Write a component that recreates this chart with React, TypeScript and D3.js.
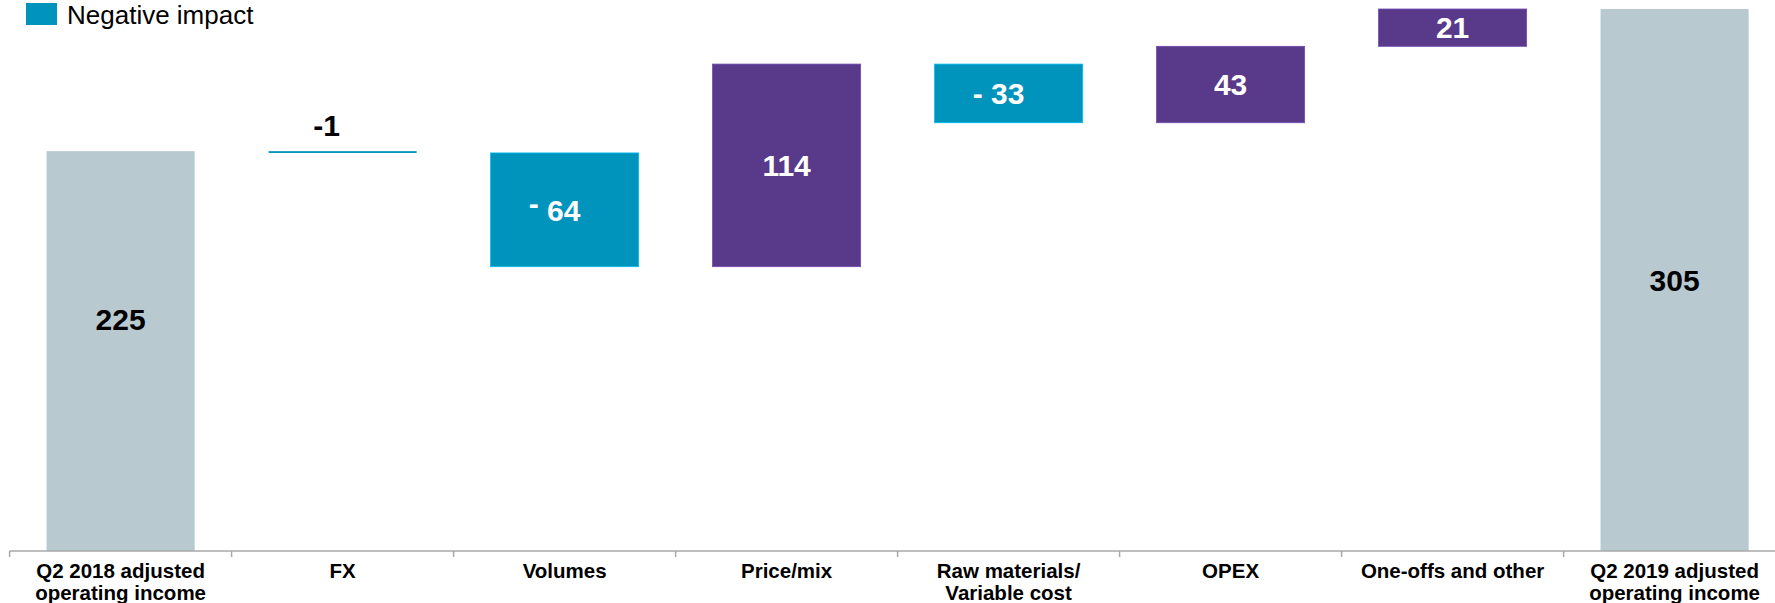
import React from 'react';
import * as d3 from 'd3';

const categories: string[][] = [
  ['Q2 2018 adjusted', 'operating income'],
  ['FX'],
  ['Volumes'],
  ['Price/mix'],
  ['Raw materials/', 'Variable cost'],
  ['OPEX'],
  ['One-offs and other'],
  ['Q2 2019 adjusted', 'operating income'],
];
const values = [225, -1, -64, 114, -33, 43, 21, 305];
const kinds = ['total', 'delta', 'delta', 'delta', 'delta', 'delta', 'delta', 'total'];
const valueLabels = ['225', '-1', '- 64', '114', '- 33', '43', '21', '305'];
const legendLabel = 'Negative impact';

const W = 1775;
const H = 603;
const FONT = '"Liberation Sans", Arial, Helvetica, sans-serif';
const COLORS = { total: '#B8C9D0', pos: '#59398A', neg: '#0093BC', axis: '#A8A8A8' };

export default function App() {
  const x = d3
    .scaleBand<number>()
    .domain(values.map((_, i) => i))
    .range([9.6, 9.6 + 222 * values.length])
    .padding(0);
  const y = d3.scaleLinear().domain([0, 305]).range([551, 9]);
  const barW = x.bandwidth() * 0.667;

  let run = 0;
  const bars = values.map((v, i) => {
    let start: number, end: number;
    if (kinds[i] === 'total') {
      start = 0;
      end = v;
      run = v;
    } else {
      start = run;
      end = run + v;
      run = end;
    }
    const fill = kinds[i] === 'total' ? COLORS.total : v < 0 ? COLORS.neg : COLORS.pos;
    return { i, v, start, end, fill, kind: kinds[i] };
  });

  const y0 = y(0);
  const VF = 30;

  return (
    <svg
      width={W}
      height={H}
      style={{ position: 'absolute', left: 0, top: 0, background: '#fff' }}
      fontFamily={FONT}
    >
      {/* legend */}
      <rect x={26} y={3} width={31} height={22} fill={COLORS.neg} />
      <text x={67} y={24} fontSize={26} fill="#000">
        {legendLabel}
      </text>

      {/* bars */}
      {bars.map((b) => {
        const top = y(Math.max(b.start, b.end));
        const bot = y(Math.min(b.start, b.end));
        const bx = (x(b.i) as number) + (x.bandwidth() - barW) / 2;
        const h = Math.max(bot - top, 1.8);
        const stroke = b.kind === 'total' ? 'none' : (d3.color(b.fill) as any).brighter(0.7).formatHex();
        return (
          <rect
            key={'b' + b.i}
            x={bx}
            y={top}
            width={barW}
            height={h}
            fill={b.fill}
            stroke={stroke}
            strokeWidth={h > 4 ? 0.8 : 0}
          />
        );
      })}

      {/* value labels */}
      {bars.map((b) => {
        const top = y(Math.max(b.start, b.end));
        const bot = y(Math.min(b.start, b.end));
        const cx = (x(b.i) as number) + x.bandwidth() / 2;
        const small = bot - top < 30;
        const label = valueLabels[b.i];
        const color = b.kind === 'total' || small ? '#000' : '#fff';
        const frac = b.i === 0 ? 0.42 : 0.5;
        const baseline = small ? top - 15 : top + (bot - top) * frac + VF * 0.36;
        const dx = b.v < 0 ? (small ? -16 : -10) : 0;
        if (label.startsWith('- ') && b.v === -64) {
          return (
            <text key={'l' + b.i} x={cx + dx} y={baseline} fontSize={VF} fontWeight="bold" fill={color} textAnchor="middle">
              <tspan dy={-7}>-</tspan>
              <tspan dy={7}>{' ' + label.slice(2)}</tspan>
            </text>
          );
        }
        return (
          <text key={'l' + b.i} x={cx + dx} y={baseline} fontSize={VF} fontWeight="bold" fill={color} textAnchor="middle">
            {label}
          </text>
        );
      })}

      {/* axis */}
      <line x1={9.6} x2={W} y1={y0} y2={y0} stroke={COLORS.axis} strokeWidth={1.5} />
      {values.map((_, i) => (
        <line
          key={'t' + i}
          x1={x(i) as number}
          x2={x(i) as number}
          y1={y0}
          y2={y0 + 6}
          stroke={COLORS.axis}
          strokeWidth={1.5}
        />
      ))}
      {categories.map((lines, i) => {
        const cx = (x(i) as number) + x.bandwidth() / 2;
        return (
          <text key={'c' + i} x={cx} y={578} fontSize={20.5} fontWeight="bold" fill="#000" textAnchor="middle">
            {lines.map((ln, k) => (
              <tspan key={k} x={cx} dy={k === 0 ? 0 : 22}>
                {ln}
              </tspan>
            ))}
          </text>
        );
      })}
    </svg>
  );
}
